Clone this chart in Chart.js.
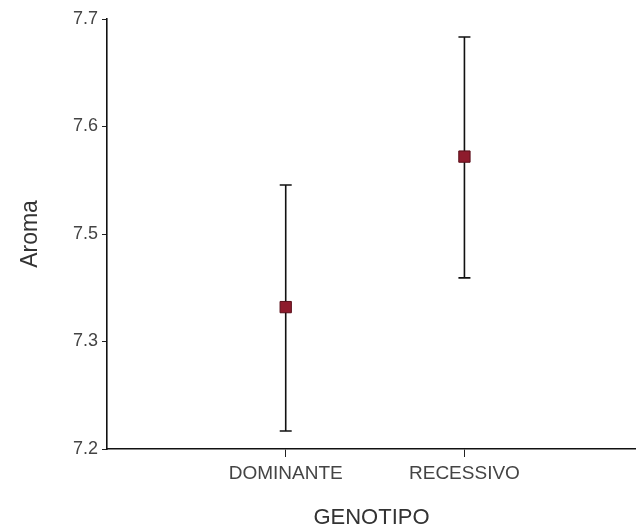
<!DOCTYPE html>
<html>
<head>
<meta charset="utf-8">
<script src="https://cdn.jsdelivr.net/npm/chart.js@4.4.0/dist/chart.umd.min.js"></script>
<style>
    html, body { margin: 0; padding: 0; background: #fff; overflow: hidden; }
    #wrap { width: 636px; height: 531px; }
</style>
</head>
<body>
<div id="wrap"><canvas id="aromaChart"></canvas></div>
<script>
// Aroma by genotype: mean with interval
const categories = ['DOMINANTE', 'RECESSIVO'];
const means = [7.365, 7.540];
const lowerBounds = [7.221, 7.399];
const upperBounds = [7.507, 7.679];
const yTickValues = [7.2, 7.325, 7.45, 7.575, 7.7];
const yTickLabels = ['7.2', '7.3', '7.5', '7.6', '7.7'];

const font = 'Liberation Sans, Arial, sans-serif';

// vertical bars + caps, drawn under the markers
const errorBars = {
    id: 'errorBars',
    beforeDatasetsDraw: function(chart) {
        const ctx = chart.ctx;
        const x = chart.scales.x;
        const y = chart.scales.y;
        ctx.save();
        ctx.strokeStyle = '#111';
        ctx.lineWidth = 1.6;
        for (let i = 0; i < categories.length; i++) {
            const px = x.getPixelForValue(i + 1);
            const top = y.getPixelForValue(upperBounds[i]);
            const bot = y.getPixelForValue(lowerBounds[i]);
            ctx.beginPath();
            ctx.moveTo(px, top);
            ctx.lineTo(px, bot);
            ctx.moveTo(px - 6, top);
            ctx.lineTo(px + 6, top);
            ctx.moveTo(px - 6, bot);
            ctx.lineTo(px + 6, bot);
            ctx.stroke();
        }
        ctx.restore();
    }
};

const ctx = document.getElementById('aromaChart').getContext('2d');
new Chart(ctx, {
    type: 'scatter',
    data: {
        datasets: [{
            label: 'Aroma',
            data: means.map(function(m, i) { return { x: i + 1, y: m }; }),
            pointStyle: 'rect',
            pointRadius: 8,
            pointHoverRadius: 8,
            backgroundColor: '#8e1b2c',
            borderColor: '#5a0f1a',
            borderWidth: 1
        }]
    },
    plugins: [errorBars],
    options: {
        responsive: true,
        maintainAspectRatio: false,
        animation: false,
        layout: {
            autoPadding: false,
            padding: { top: 19, right: 0, bottom: 0, left: 0 }
        },
        plugins: {
            legend: { display: false },
            tooltip: { enabled: false }
        },
        scales: {
            x: {
                type: 'linear',
                min: 0,
                max: 2.96,
                afterBuildTicks: function(scale) {
                    scale.ticks = categories.map(function(c, i) { return { value: i + 1 }; });
                },
                afterFit: function(scale) {
                    scale.height = 82;
                },
                ticks: {
                    autoSkip: false,
                    maxRotation: 0,
                    padding: 5,
                    color: '#444',
                    font: { family: font, size: 19 },
                    callback: function(value) {
                        return categories[value - 1] || '';
                    }
                },
                grid: {
                    drawOnChartArea: false,
                    drawTicks: true,
                    tickLength: 8,
                    color: '#222'
                },
                border: { display: true, color: '#111', width: 1.6 },
                title: {
                    display: true,
                    text: 'GENOTIPO',
                    color: '#333',
                    font: { family: font, size: 22 },
                    padding: { top: 4, bottom: 0 }
                }
            },
            y: {
                min: 7.2,
                max: 7.7,
                afterBuildTicks: function(scale) {
                    scale.ticks = yTickValues.map(function(v) { return { value: v }; });
                },
                afterFit: function(scale) {
                    scale.width = 107;
                },
                ticks: {
                    autoSkip: false,
                    padding: 4,
                    color: '#444',
                    font: { family: font, size: 18 },
                    callback: function(value) {
                        const idx = yTickValues.indexOf(value);
                        return idx >= 0 ? yTickLabels[idx] : '';
                    }
                },
                grid: {
                    drawOnChartArea: false,
                    drawTicks: true,
                    tickLength: 5,
                    color: '#222'
                },
                border: { display: true, color: '#111', width: 1.6 },
                title: {
                    display: true,
                    text: 'Aroma',
                    color: '#333',
                    font: { family: font, size: 23 },
                    padding: { top: 17, bottom: 0 }
                }
            }
        }
    }
});
</script>
</body>
</html>
